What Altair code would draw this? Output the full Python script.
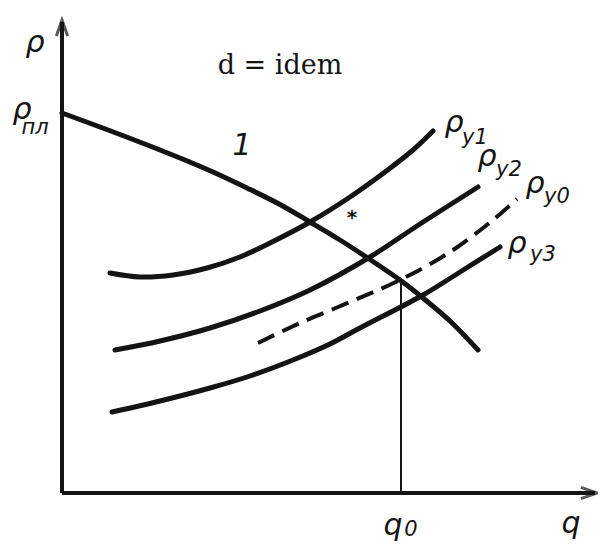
import altair as alt
import pandas as pd

# Curve 1 (reservoir density line), q vs rho, in diagram units
c1_q = [0.0, 1.16, 2.36, 3.02, 3.70, 4.36, 4.96, 5.56, 6.16, 6.76, 7.22, 7.76, 8.32]
c1_r = [7.60, 7.17, 6.70, 6.42, 6.10, 5.77, 5.42, 5.06, 4.67, 4.26, 3.90, 3.44, 2.86]

y1_q = [0.96, 1.56, 2.22, 2.90, 3.56, 4.16, 4.96, 5.76, 6.46, 7.02, 7.42]
y1_r = [4.40, 4.32, 4.36, 4.50, 4.72, 5.00, 5.42, 5.92, 6.42, 6.86, 7.24]

y2_q = [1.06, 1.96, 2.96, 3.96, 4.96, 6.16, 7.16, 8.32]
y2_r = [2.86, 3.04, 3.30, 3.64, 4.06, 4.72, 5.38, 6.12]

y0_q = [3.92, 4.76, 5.76, 6.76, 7.76, 8.62, 9.10]
y0_r = [3.00, 3.40, 3.82, 4.26, 4.82, 5.46, 5.88]

y3_q = [1.00, 1.96, 2.96, 3.76, 4.62, 5.36, 5.96, 7.22, 7.96, 8.76]
y3_r = [1.62, 1.84, 2.10, 2.34, 2.66, 2.98, 3.30, 3.96, 4.42, 4.92]

q0 = 6.78
rho_at_q0 = 4.26
x_axis_end = 10.66
y_axis_end = 9.42

INK = "#141414"
FONT = "DejaVu Sans"

def frame(name, qs, rs):
    return pd.DataFrame({"s": name, "q": qs, "r": rs, "o": list(range(len(qs)))})

solid = pd.concat([frame("1", c1_q, c1_r), frame("y1", y1_q, y1_r),
                   frame("y2", y2_q, y2_r), frame("y3", y3_q, y3_r)])
dashed = frame("y0", y0_q, y0_r)

xs = alt.Scale(domain=[-1.08, 10.72], nice=False, zero=False)
ys = alt.Scale(domain=[-0.98, 9.70], nice=False, zero=False)
X = lambda f: alt.X(f, type="quantitative", scale=xs, axis=None)
Y = lambda f: alt.Y(f, type="quantitative", scale=ys, axis=None)

axes_df = pd.DataFrame({"q": [0, 0], "r": [0, 0], "q2": [x_axis_end, 0], "r2": [0, y_axis_end]})
axes = alt.Chart(axes_df).mark_rule(color=INK, strokeWidth=4).encode(
    x=X("q"), y=Y("r"), x2="q2", y2="r2")

arrow_up = alt.Chart(pd.DataFrame({"q": [0], "r": [y_axis_end - 0.12]})).mark_point(
    shape="M -0.7 1 L 0 -1 L 0.7 1", filled=False, stroke=INK, strokeWidth=3, size=260
).encode(x=X("q"), y=Y("r"))
arrow_right = alt.Chart(pd.DataFrame({"q": [x_axis_end - 0.12], "r": [0]})).mark_point(
    shape="M -1 -0.7 L 1 0 L -1 0.7", filled=False, stroke=INK, strokeWidth=3, size=260
).encode(x=X("q"), y=Y("r"))

lines = alt.Chart(solid).mark_line(color=INK, strokeWidth=5, strokeCap="round",
                                   interpolate="catmull-rom").encode(
    x=X("q"), y=Y("r"), detail="s:N", order="o:Q")
dash = alt.Chart(dashed).mark_line(color=INK, strokeWidth=4, strokeDash=[18, 9],
                                   interpolate="catmull-rom").encode(
    x=X("q"), y=Y("r"), order="o:Q")

vline = alt.Chart(pd.DataFrame({"q": [q0], "r": [0], "r2": [rho_at_q0]})).mark_rule(
    color=INK, strokeWidth=2).encode(x=X("q"), y=Y("r"), y2="r2")

# labels: big glyphs
big_txt = ["ρ", "ρ", "ρ", "ρ", "ρ", "ρ", "q", "q"]
big_q = [-0.54, -0.80, 7.84, 8.50, 9.46, 9.10, 6.62, 10.18]
big_r = [9.00, 7.66, 7.40, 6.72, 6.18, 4.98, -0.66, -0.62]
sub_txt = ["пл", "у1", "у2", "у0", "у3", "0"]
sub_q = [-0.54, 8.26, 8.94, 9.90, 9.62, 6.98]
sub_r = [7.30, 7.10, 6.46, 5.92, 4.76, -0.74]

big = alt.Chart(pd.DataFrame({"t": big_txt, "q": big_q, "r": big_r})).mark_text(
    font=FONT, fontSize=30, fontStyle="italic", color=INK, align="center", baseline="middle"
).encode(x=X("q"), y=Y("r"), text="t:N")
sub = alt.Chart(pd.DataFrame({"t": sub_txt, "q": sub_q, "r": sub_r})).mark_text(
    font=FONT, fontSize=21, fontStyle="italic", color=INK, align="center", baseline="middle"
).encode(x=X("q"), y=Y("r"), text="t:N")

title_txt = alt.Chart(pd.DataFrame({"t": ["d = idem"], "q": [4.36], "r": [8.54]})).mark_text(
    font="DejaVu Serif", fontSize=27, color=INK, align="center", baseline="middle"
).encode(x=X("q"), y=Y("r"), text="t:N")
one_txt = alt.Chart(pd.DataFrame({"t": ["1"], "q": [3.60], "r": [6.94]})).mark_text(
    font=FONT, fontSize=30, fontStyle="italic", color=INK, align="center", baseline="middle"
).encode(x=X("q"), y=Y("r"), text="t:N")
star = alt.Chart(pd.DataFrame({"t": ["*"], "q": [5.80], "r": [5.50]})).mark_text(
    font=FONT, fontSize=20, fontWeight="bold", color=INK, align="center", baseline="middle"
).encode(x=X("q"), y=Y("r"), text="t:N")

chart = alt.layer(axes, arrow_up, arrow_right, vline, lines, dash, big, sub,
                  title_txt, one_txt, star).properties(
    width=590, height=534, padding=0, autosize=alt.AutoSizeParams(type="none"),
    background="white"
).configure_view(stroke=None)

chart.save("out.html", embed_options={"renderer": "svg", "actions": False})
